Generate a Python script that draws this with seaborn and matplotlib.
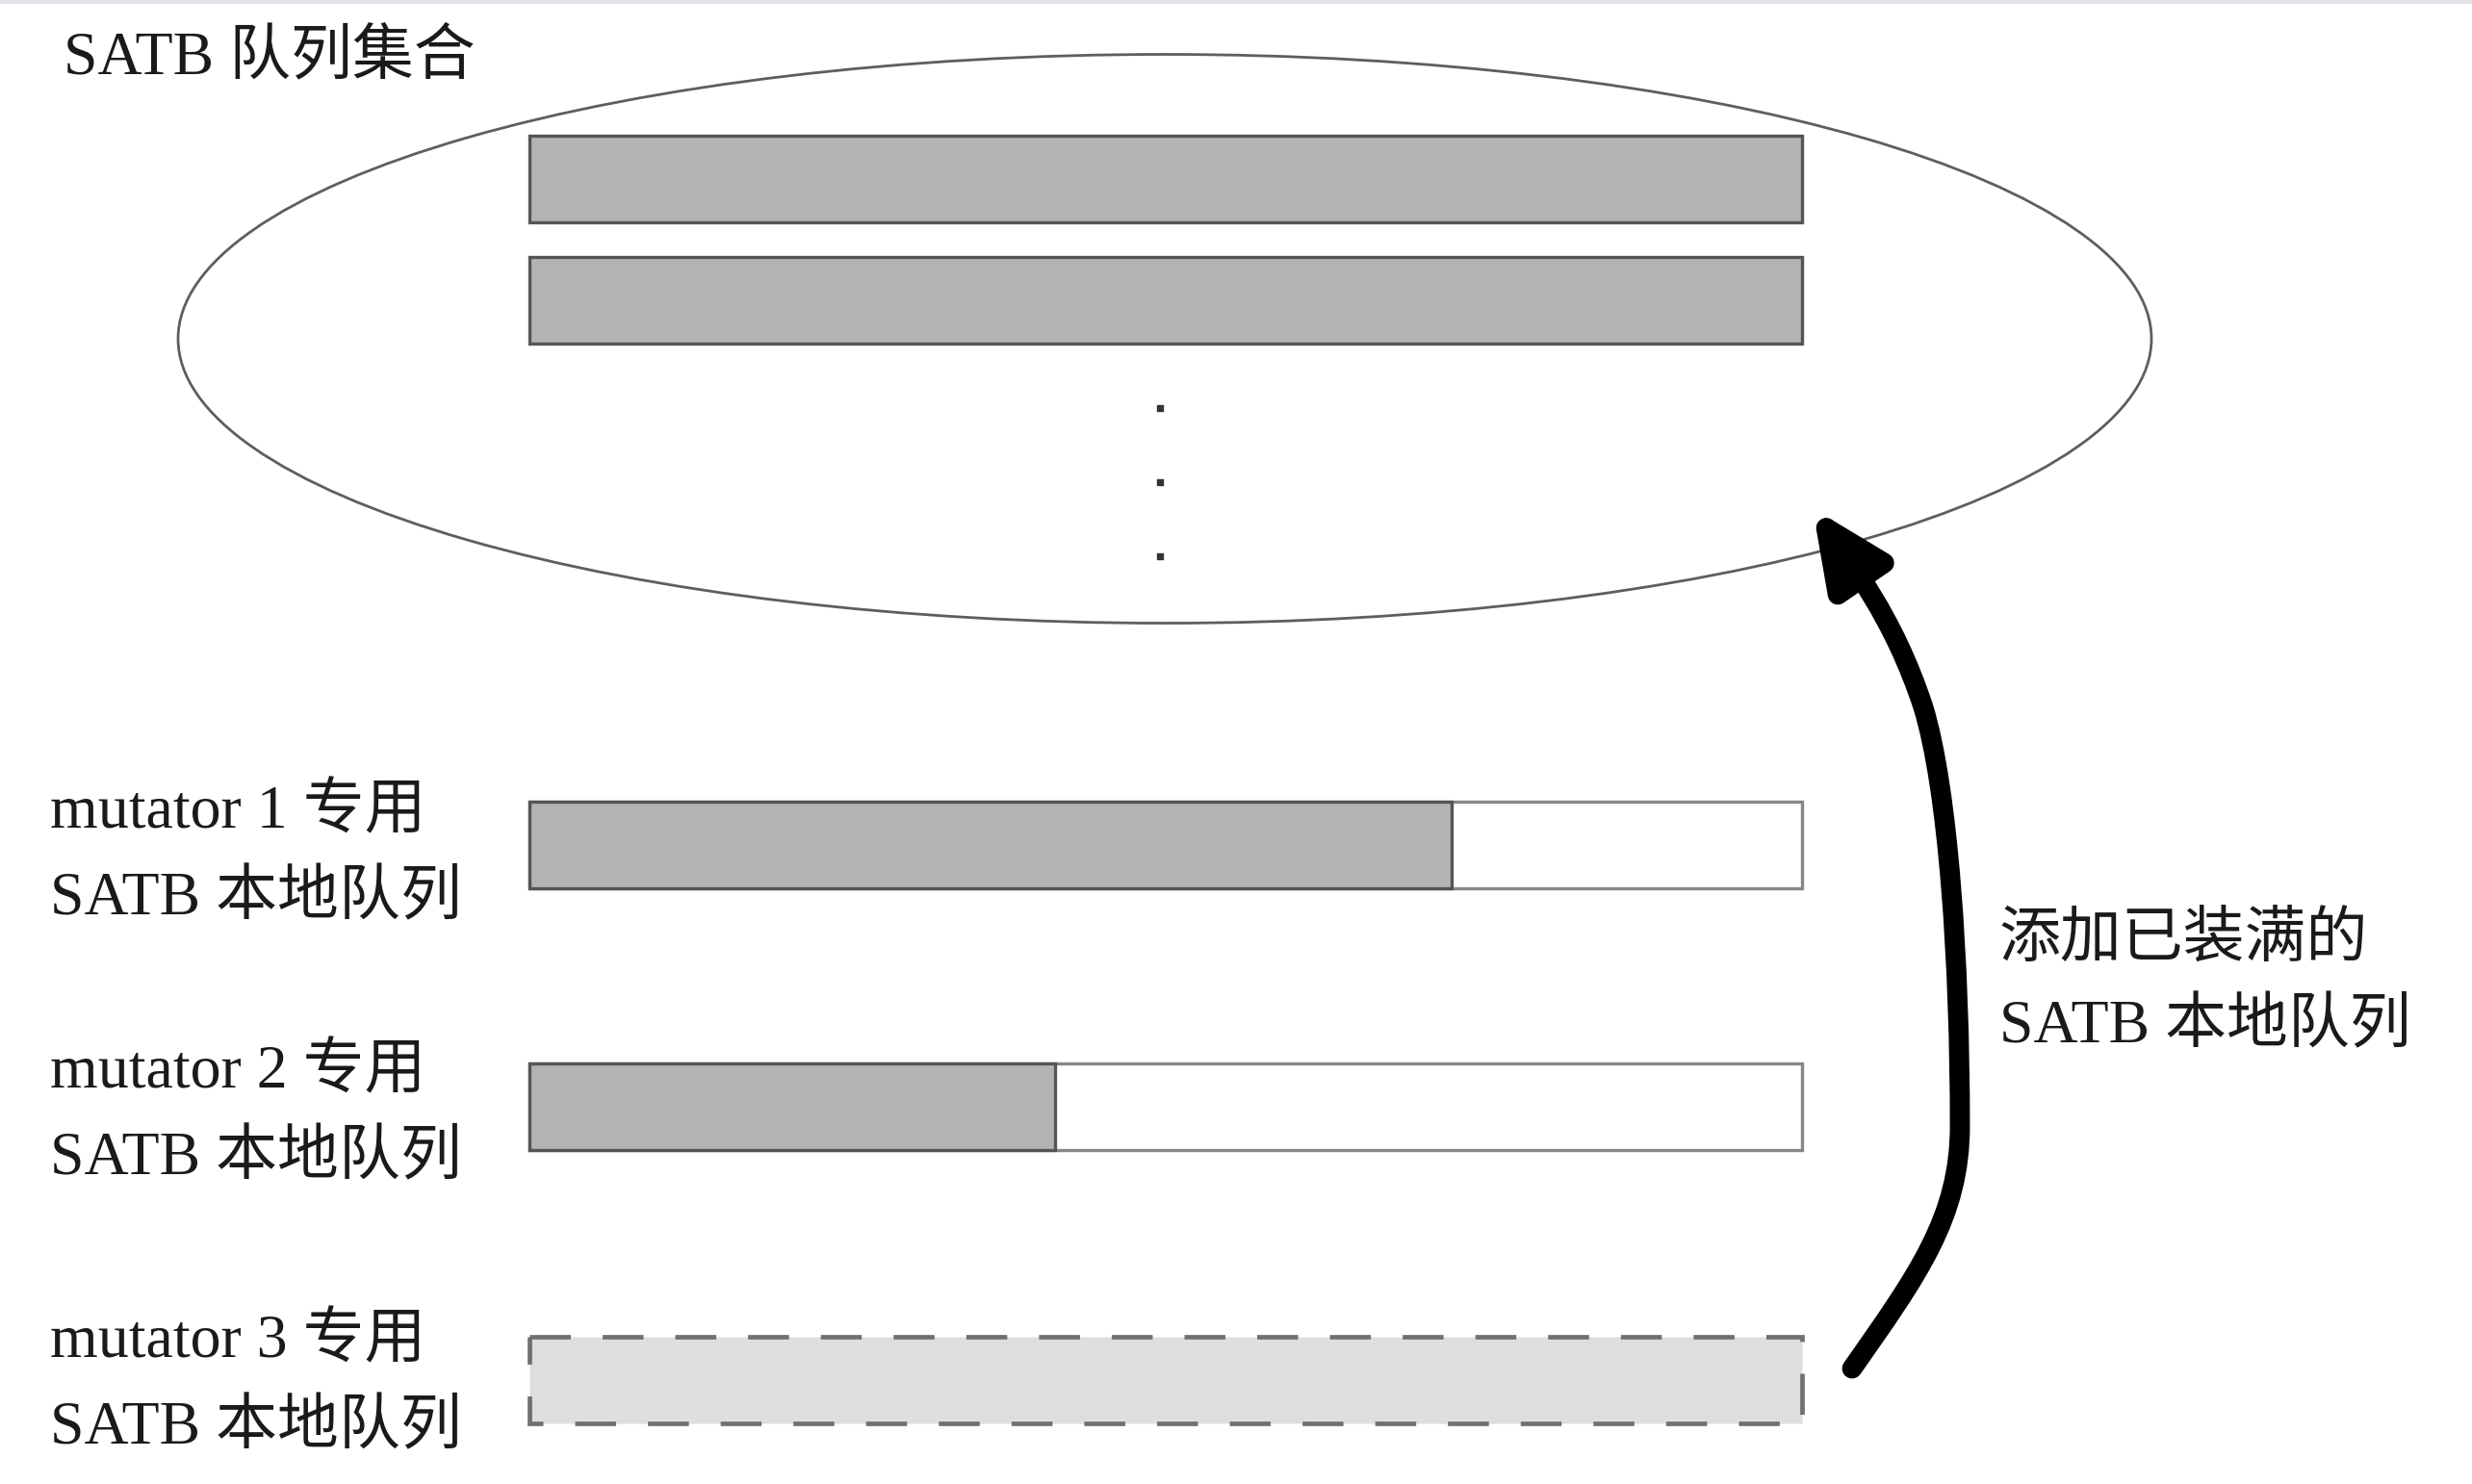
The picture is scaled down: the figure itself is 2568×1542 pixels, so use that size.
import matplotlib
matplotlib.use("Agg")
import matplotlib.pyplot as plt
import seaborn as sns
import numpy as np
from matplotlib.patches import Ellipse, FancyArrowPatch
from matplotlib.path import Path

# --- data ---
set_title = 'SATB 队列集合'
set_queue_fill = [1.0, 1.0]          # full queues already in the set
local_labels = ['mutator 1 专用\nSATB 本地队列',
                'mutator 2 专用\nSATB 本地队列',
                'mutator 3 专用\nSATB 本地队列']
local_fill = [0.725, 0.413, 0.0]     # how full each local queue is
arrow_label = '添加已装满的\nSATB 本地队列'

# --- layout (pixels, figure is 2568 x 1542) ---
W, H = 2568, 1542
q_left, q_len, q_h = 550, 1322, 90
set_rows_y = [186, 312]
local_rows_y = [878, 1150, 1434]
label_y = [890, 1160, 1440]
dots_y = [424, 501, 578]

sns.set_theme(style='white')
plt.rcParams['font.family'] = ['Liberation Serif', 'Noto Sans CJK SC']

fig = plt.figure(figsize=(W / 100, H / 100), dpi=100)
ax = fig.add_axes([0, 0, 1, 1])
ax.set_xlim(0, W)
ax.set_ylim(H, 0)
ax.axis('off')

# faint border line at the very top
ax.axhline(2, color='#e2e2e8', lw=3)

# queue set ellipse
ax.add_patch(Ellipse((1210, 352), 2050, 591, fill=False, ec='#5e5e5e', lw=2.0))
ax.text(66, 61, set_title, fontsize=46, va='center', ha='left', color='#1a1a1a')

# full queues inside the set
ax.barh(set_rows_y, [f * q_len for f in set_queue_fill], left=q_left, height=q_h,
        color='#b3b3b3', edgecolor='#555555', linewidth=2.4)

# ellipsis dots
ax.scatter([1205] * len(dots_y), dots_y, marker='s', s=22, color='#333333')

# local queues: outline of full capacity, then the used part
for y, ty, frac, lab in zip(local_rows_y, label_y, local_fill, local_labels):
    if frac > 0:
        ax.barh(y, q_len, left=q_left, height=q_h, color='white',
                edgecolor='#888888', linewidth=2.4)
        ax.barh(y, frac * q_len, left=q_left, height=q_h, color='#b3b3b3',
                edgecolor='#555555', linewidth=2.4)
    else:
        ax.barh(y, q_len, left=q_left, height=q_h, color='#dedede',
                edgecolor='#707070', linewidth=3.4, linestyle=(0, (9, 7)))
    ax.text(52, ty, lab, fontsize=46, va='center', ha='left', color='#1a1a1a',
            linespacing=1.68)

# curved arrow from the last local queue up into the set
pts = [(1924, 1422),
       (1992, 1325), (2036, 1265), (2036, 1170),
       (2036, 1000), (2024, 820), (1998, 735),
       (1967, 640), (1922, 585), (1883, 528)]
codes = [Path.MOVETO] + [Path.CURVE4] * 9
arrow = FancyArrowPatch(path=Path(pts, codes),
                        arrowstyle='-|>,head_length=46,head_width=21',
                        color='black', lw=15, joinstyle='round', capstyle='round')
ax.add_patch(arrow)

ax.text(2077, 1023, arrow_label, fontsize=46, va='center', ha='left',
        color='#1a1a1a', linespacing=1.68)

fig.savefig('out.png', dpi=100, facecolor='white')
